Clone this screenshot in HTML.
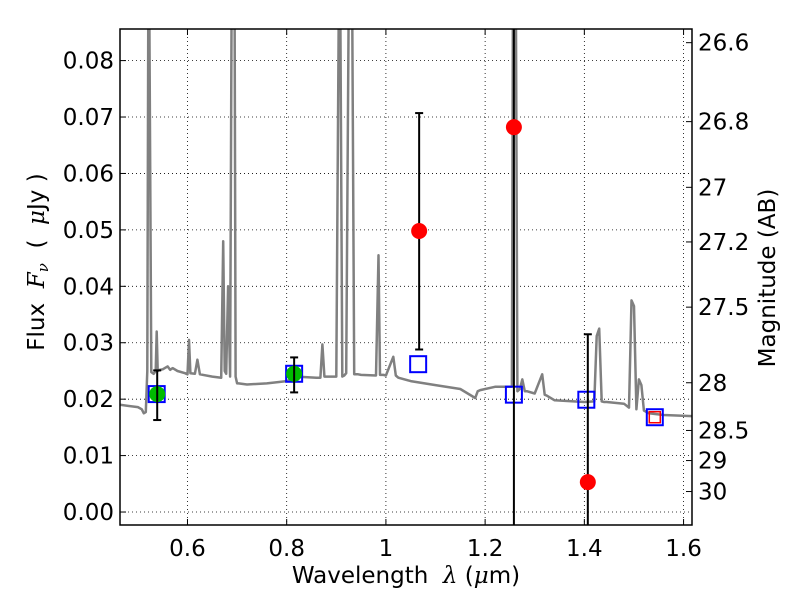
<!DOCTYPE html>
<html><head><meta charset="utf-8">
<style>
body{margin:0;background:#fff;}
svg{display:block;font-family:"DejaVu Sans","Liberation Sans",sans-serif;}
</style></head>
<body>
<svg id="chart" width="800" height="600" viewBox="0 0 800 600"></svg>
<script>
// ---- data ----
const specLam = [0.464,0.50,0.508,0.512,0.516,0.519,0.521,0.523,0.527,0.532,0.536,0.538,0.540,0.544,0.55,0.56,0.565,0.57,0.58,0.595,0.600,0.603,0.606,0.615,0.62,0.625,0.65,0.668,0.672,0.675,0.678,0.682,0.686,0.689,0.692,0.695,0.697,0.700,0.703,0.72,0.76,0.80,0.82,0.86,0.868,0.872,0.876,0.88,0.90,0.905,0.908,0.912,0.916,0.92,0.925,0.928,0.932,0.936,0.94,0.944,0.95,0.98,0.985,0.988,0.991,0.995,1.0,1.015,1.02,1.025,1.05,1.1,1.15,1.18,1.185,1.19,1.22,1.25,1.254,1.256,1.262,1.265,1.27,1.275,1.28,1.285,1.3,1.315,1.32,1.325,1.34,1.4,1.42,1.425,1.43,1.435,1.44,1.445,1.48,1.49,1.495,1.5,1.505,1.51,1.515,1.52,1.53,1.56,1.617];
const specFlux = [0.0190,0.0186,0.0182,0.0175,0.0177,0.0250,0.0900,0.0900,0.0248,0.0245,0.0250,0.0320,0.0250,0.0252,0.0253,0.0258,0.0252,0.0255,0.0250,0.0246,0.0244,0.0305,0.0246,0.0245,0.0270,0.0244,0.0240,0.0238,0.0480,0.0250,0.0245,0.0400,0.0240,0.0900,0.0900,0.0900,0.0240,0.0228,0.0228,0.0226,0.0228,0.0232,0.0240,0.0238,0.0238,0.0297,0.0240,0.0240,0.0240,0.0900,0.0900,0.0240,0.0242,0.0246,0.0900,0.0900,0.0900,0.0244,0.0244,0.0244,0.0243,0.0242,0.0455,0.0243,0.0243,0.0243,0.0242,0.0275,0.0242,0.0238,0.0232,0.0225,0.0218,0.0202,0.0214,0.0216,0.0222,0.0222,0.0222,0.0900,0.0900,0.0214,0.0218,0.0235,0.0214,0.0214,0.0210,0.0244,0.0208,0.0206,0.0198,0.0195,0.0196,0.0312,0.0325,0.0196,0.0195,0.0195,0.0192,0.0185,0.0375,0.0365,0.0182,0.0235,0.0225,0.0180,0.0175,0.0172,0.0170,0.0168];
const squareLam = [0.538,0.815,1.065,1.258,1.404,1.542];
const squareFlux = [0.0209,0.0245,0.0262,0.0208,0.0199,0.0168];
const greenLam = [0.539,0.815];
const greenFlux = [0.0209,0.0245];
const greenLo = [0.0163,0.0212];
const greenHi = [0.0251,0.0274];
const redLam = [1.067,1.258,1.407];
const redFlux = [0.0498,0.0682,0.0053];
const redLo = [0.0288,-0.01,-0.01];
const redHi = [0.0707,0.10,0.0315];
const xTicks = [0.6,0.8,1.0,1.2,1.4,1.6];
const xTickLabels = ["0.6","0.8","1","1.2","1.4","1.6"];
const yTicks = [0,0.01,0.02,0.03,0.04,0.05,0.06,0.07,0.08];
const yTickLabels = ["0.00","0.01","0.02","0.03","0.04","0.05","0.06","0.07","0.08"];
const magTicks = [26.6,26.8,27,27.2,27.5,28,28.5,29,30];
const magTickLabels = ["26.6","26.8","27","27.2","27.5","28","28.5","29","30"];

// ---- scales ----
const L=120,R=692,T=29,B=525;
const xMin=0.464,xMax=1.617,yMin=-0.0023,yMax=0.0856;
const xs=v=>L+(v-xMin)/(xMax-xMin)*(R-L);
const ys=v=>B-(v-yMin)/(yMax-yMin)*(B-T);
const magToFlux=m=>Math.pow(10,(23.9-m)/2.5);
const NS="http://www.w3.org/2000/svg";
const svg=document.getElementById('chart');
function mk(tag,attrs,parent){const e=document.createElementNS(NS,tag);for(const k in attrs)e.setAttribute(k,attrs[k]);(parent||svg).appendChild(e);return e;}

const defs=mk('defs',{});
const cp=mk('clipPath',{id:'clip'},defs);
mk('rect',{x:L,y:T,width:R-L,height:B-T},cp);

const grid=mk('g',{});


xTicks.forEach(t=>{mk('line',{x1:xs(t),x2:xs(t),y1:T,y2:B,stroke:'#000','stroke-width':0.8,'stroke-dasharray':'1,3'},grid);});
yTicks.forEach(t=>{mk('line',{x1:L,x2:R,y1:ys(t),y2:ys(t),stroke:'#000','stroke-width':0.8,'stroke-dasharray':'1,3'},grid);});

const plot=mk('g',{'clip-path':'url(#clip)'});
const pts=specLam.map((l,i)=>xs(l).toFixed(1)+','+ys(specFlux[i]).toFixed(1)).join(' ');
const spec=mk('polyline',{points:pts,fill:'none',stroke:'#808080','stroke-width':2.5,'stroke-linejoin':'round'},plot);



function errbar(lam,lo,hi,name){
  const g=mk('g',{},plot);
  
  
  const x=xs(lam);
  mk('line',{x1:x,x2:x,y1:ys(lo),y2:ys(hi),stroke:'#000','stroke-width':2},g);
  mk('line',{x1:x-4,x2:x+4,y1:ys(lo),y2:ys(lo),stroke:'#000','stroke-width':2},g);
  mk('line',{x1:x-4,x2:x+4,y1:ys(hi),y2:ys(hi),stroke:'#000','stroke-width':2},g);
}
squareLam.forEach((l,i)=>{
  const s=mk('rect',{x:xs(l)-8,y:ys(squareFlux[i])-8,width:16,height:16,fill:'none',stroke:'#0000ff','stroke-width':2},plot);
  
  
});
const inner=mk('rect',{x:xs(squareLam[5])-5.5,y:ys(squareFlux[5])-5.5,width:11,height:11,fill:'none',stroke:'#ff0000','stroke-width':1.5},plot);


greenLam.forEach((l,i)=>{
  const c=mk('circle',{cx:xs(l),cy:ys(greenFlux[i]),r:8,fill:'#00bb00'},plot);
  
  
});
greenLam.forEach((l,i)=>{errbar(l,greenLo[i],greenHi[i],'green-errorbar');});
redLam.forEach((l,i)=>{
  errbar(l,redLo[i],redHi[i],'red-errorbar');
  const c=mk('circle',{cx:xs(l),cy:ys(redFlux[i]),r:8,fill:'#ff0000'},plot);
  
  
});

const fr=mk('rect',{x:L,y:T,width:R-L,height:B-T,fill:'none',stroke:'#000','stroke-width':1.5});



xTicks.forEach((t,i)=>{
  mk('line',{x1:xs(t),x2:xs(t),y1:B,y2:B-6,stroke:'#000'});
  mk('line',{x1:xs(t),x2:xs(t),y1:T,y2:T+6,stroke:'#000'});
  const tx=mk('text',{x:xs(t),y:B+31,'text-anchor':'middle','font-size':23});
  tx.textContent=xTickLabels[i];
  
  
});
yTicks.forEach((t,i)=>{
  mk('line',{x1:L,x2:L+6,y1:ys(t),y2:ys(t),stroke:'#000'});
  const tx=mk('text',{x:L-6,y:ys(t)+8,'text-anchor':'end','font-size':23});
  tx.textContent=yTickLabels[i];
  
  
});
magTicks.forEach((m,i)=>{
  const y=ys(magToFlux(m));
  mk('line',{x1:R,x2:R-6,y1:y,y2:y,stroke:'#000'});
  const tx=mk('text',{x:R+6,y:y+8,'text-anchor':'start','font-size':23});
  tx.textContent=magTickLabels[i];
  
  
});
</script>
<svg style="position:absolute;left:0;top:0" width="800" height="600">
<text x="406" y="583" text-anchor="middle" font-size="23" font-family="DejaVu Sans, Liberation Sans, sans-serif" xml:space="preserve">Wavelength  <tspan font-family="DejaVu Serif, Liberation Serif, serif" font-style="italic">λ</tspan> (<tspan font-family="DejaVu Serif, Liberation Serif, serif" font-style="italic">μ</tspan>m)</text>
<text transform="translate(44,262) rotate(-90)" text-anchor="middle" font-size="23" font-family="DejaVu Sans, Liberation Sans, sans-serif" xml:space="preserve">Flux  <tspan font-family="DejaVu Serif, Liberation Serif, serif" font-style="italic">F</tspan><tspan font-family="DejaVu Serif, Liberation Serif, serif" font-style="italic" font-size="15" dy="4">ν</tspan><tspan dy="-4">  (  </tspan><tspan font-family="DejaVu Serif, Liberation Serif, serif" font-style="italic">μ</tspan>Jy )</text>
<text transform="translate(775,278) rotate(-90)" text-anchor="middle" font-size="23" font-family="DejaVu Sans, Liberation Sans, sans-serif">Magnitude (AB)</text>
</svg>
</body></html>
